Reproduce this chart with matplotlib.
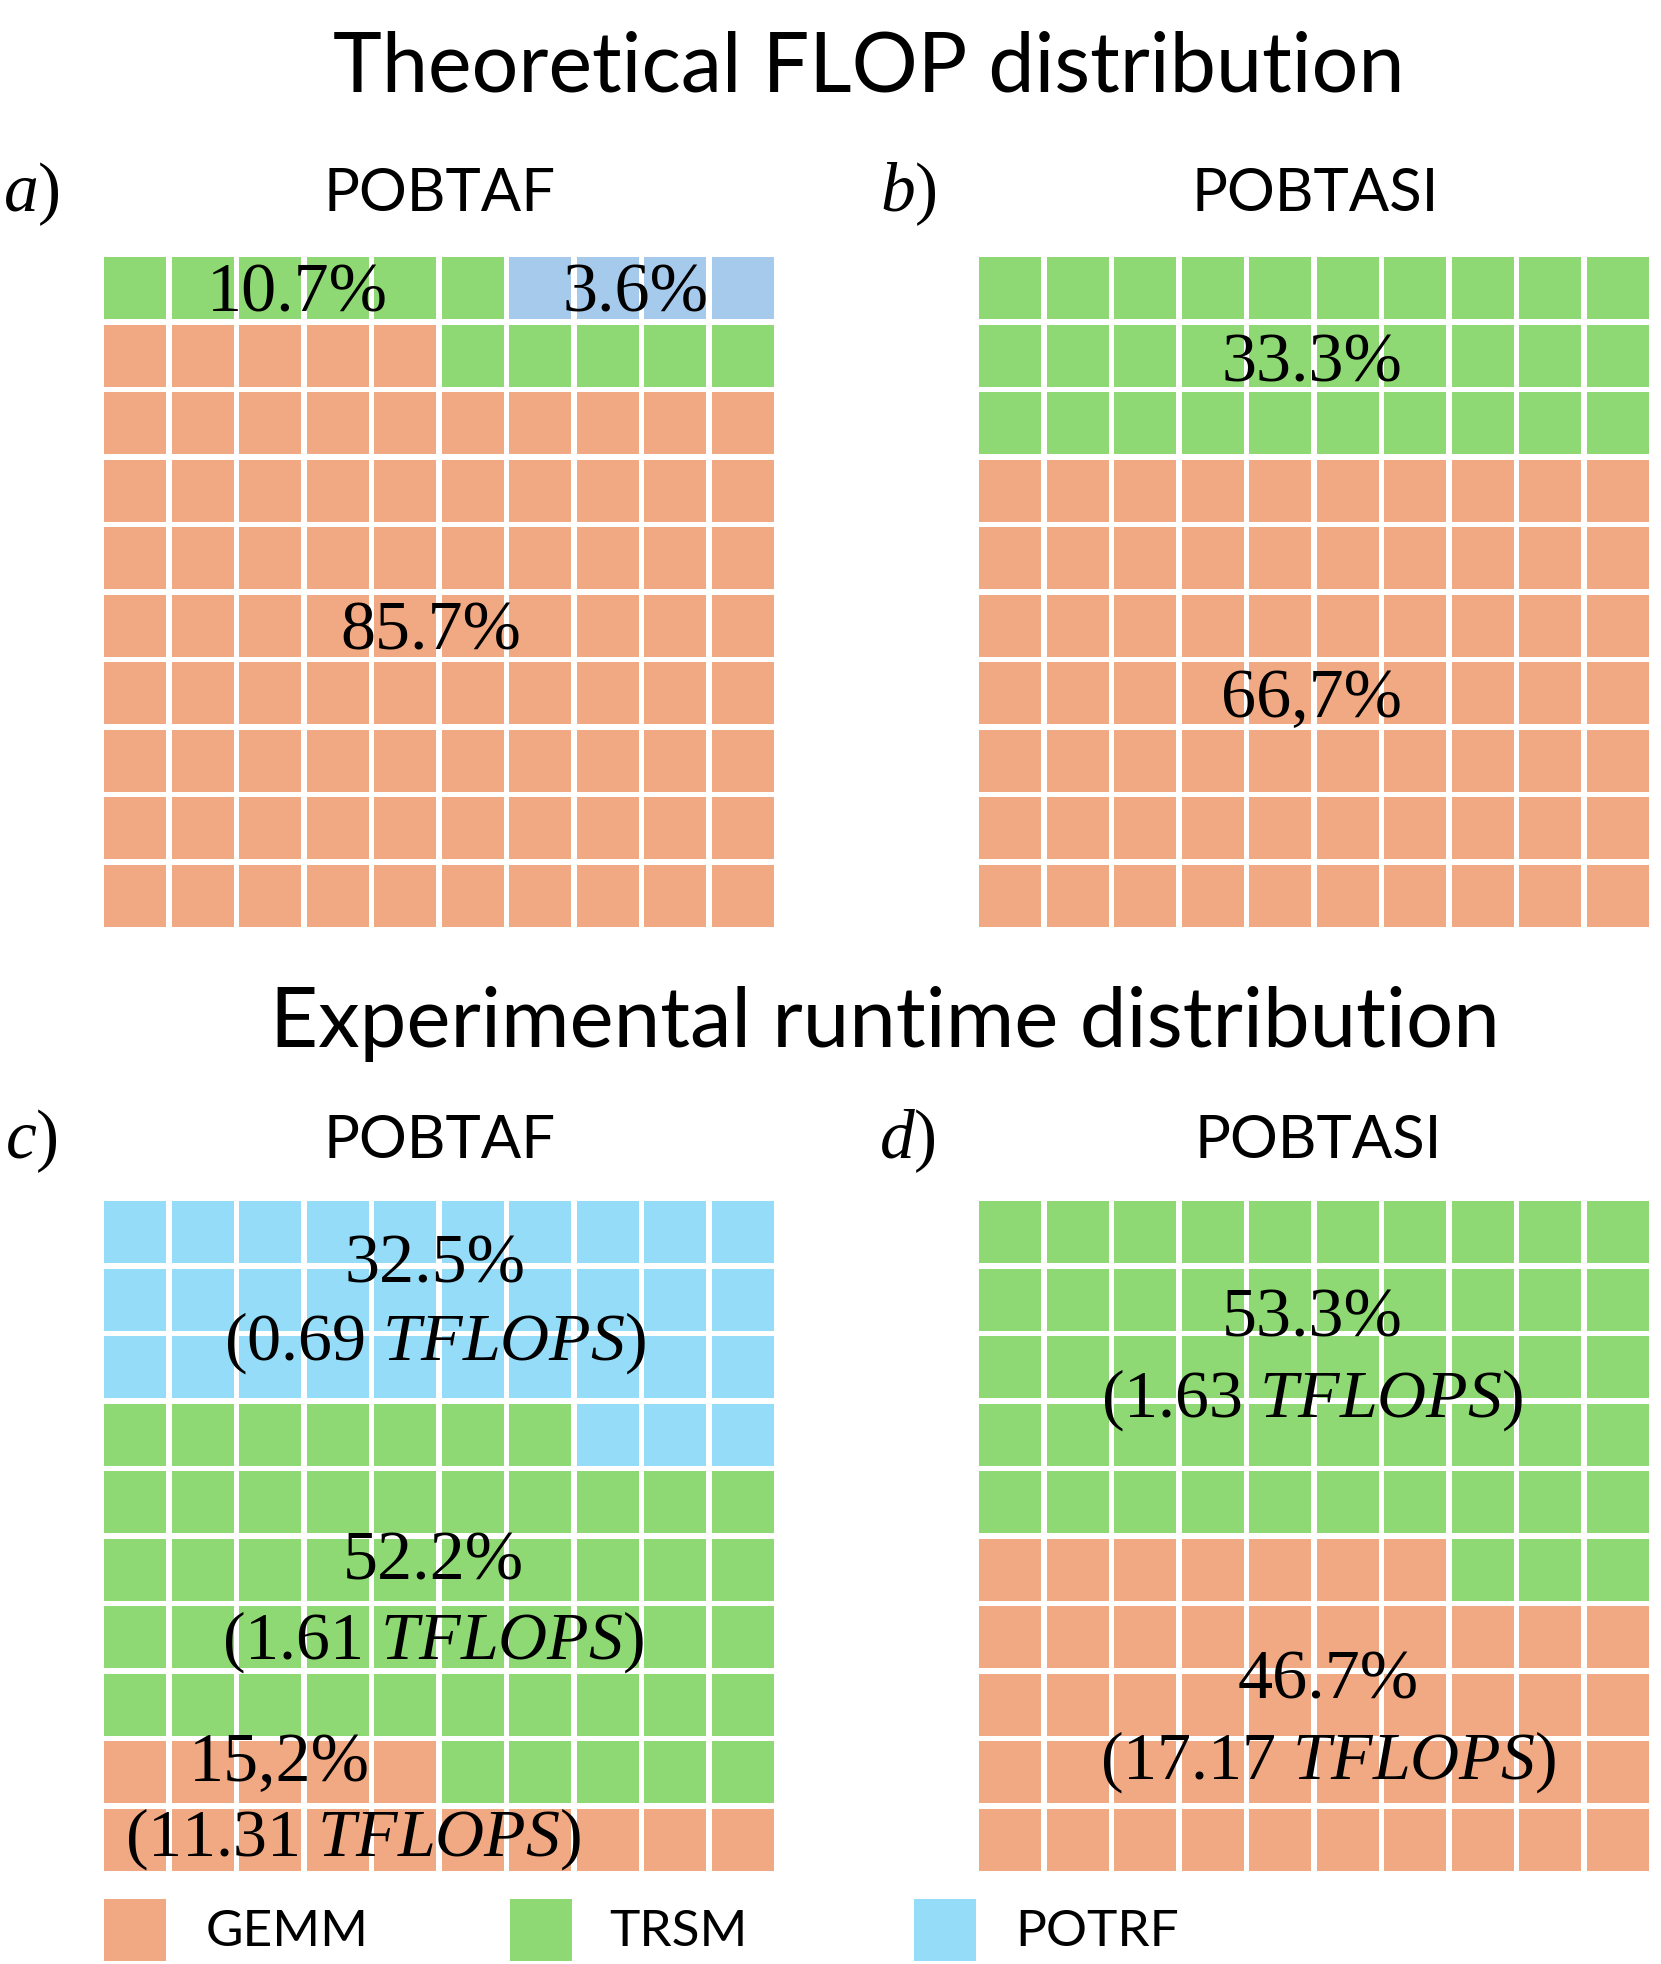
import numpy as np
import matplotlib.pyplot as plt
from matplotlib.patches import Rectangle

plt.rcParams['mathtext.fontset'] = 'custom'
plt.rcParams['mathtext.rm'] = 'Liberation Serif'
plt.rcParams['mathtext.it'] = 'Liberation Serif:italic'

SANS = 'Lato'
SERIF = 'Liberation Serif'

kernels = ['GEMM', 'TRSM', 'POTRF']
kernel_colors = ['#F1A983', '#8ED973', '#95DCF8']
theory_colors = ['#F1A983', '#8ED973', '#A6CAEC']

# number of cells (out of 100) per kernel: GEMM, TRSM, POTRF
theory_pobtaf = [85, 11, 4]
theory_pobtasi = [70, 30, 0]
runtime_pobtaf = [15, 52, 33]
runtime_pobtasi = [47, 53, 0]

# printed labels
theory_pobtaf_pct = ['85.7%', '10.7%', '3.6%']
theory_pobtasi_pct = ['66,7%', '33.3%']
runtime_pobtaf_pct = ['15,2%', '52.2%', '32.5%']
runtime_pobtaf_tflops = ['11.31', '1.61', '0.69']
runtime_pobtasi_pct = ['46.7%', '53.3%']
runtime_pobtasi_tflops = ['17.17', '1.63']

W, H = 1661, 1965
fig = plt.figure(figsize=(W / 100, H / 100), dpi=100)


def waffle_axes(left, top, size=675):
    # pixel box -> figure fraction
    return fig.add_axes([left / W, 1 - (top + size) / H, size / W, size / H])


def draw_waffle(ax, counts, colors, nrows=10, ncols=10, gap=0.075):
    fill = np.repeat(np.arange(len(counts)), counts)
    for i, k in enumerate(fill):
        row = nrows - 1 - i // ncols
        col = i % ncols
        ax.add_patch(Rectangle((col + gap / 2, row + gap / 2), 1 - gap, 1 - gap,
                               facecolor=colors[k], edgecolor='none'))
    ax.set_xlim(0, ncols)
    ax.set_ylim(nrows, 0)
    ax.axis('off')


ax_a = waffle_axes(101.5, 255.5)
ax_b = waffle_axes(976.5, 255.5)
ax_c = waffle_axes(101.5, 1199.5)
ax_d = waffle_axes(976.5, 1199.5)
draw_waffle(ax_a, theory_pobtaf, theory_colors)
draw_waffle(ax_b, theory_pobtasi, theory_colors)
draw_waffle(ax_c, runtime_pobtaf, kernel_colors)
draw_waffle(ax_d, runtime_pobtasi, kernel_colors)

# overlay in pixel coordinates for texts and legend
ov = fig.add_axes([0, 0, 1, 1], zorder=5)
ov.set_xlim(0, W)
ov.set_ylim(H, 0)
ov.axis('off')

ov.text(869, 92, 'Theoretical FLOP distribution', ha='center', va='baseline',
        fontsize=59.5, family=SANS)
ov.text(885, 1047, 'Experimental runtime distribution', ha='center', va='baseline',
        fontsize=60, family=SANS)

for x, y, name in [(440, 211, 'POBTAF'), (1315, 211, 'POBTASI'),
                   (440, 1158, 'POBTAF'), (1318, 1158, 'POBTASI')]:
    ov.text(x, y, name, ha='center', va='baseline', fontsize=43, family=SANS)

for x, y, letter in [(3, 211, 'a'), (880, 211, 'b'), (5, 1158, 'c'), (879, 1158, 'd')]:
    ov.text(x, y, '$%s$)' % letter, ha='left', va='baseline', fontsize=50, family=SERIF)

pct_size = 50.5
tfl_size = 49
# a)
ov.text(431, 650, theory_pobtaf_pct[0], ha='center', va='baseline', fontsize=pct_size, family=SERIF)
ov.text(297, 312, theory_pobtaf_pct[1], ha='center', va='baseline', fontsize=pct_size, family=SERIF)
ov.text(636, 312, theory_pobtaf_pct[2], ha='center', va='baseline', fontsize=pct_size, family=SERIF)
# b)
ov.text(1312, 717, theory_pobtasi_pct[0], ha='center', va='baseline', fontsize=pct_size, family=SERIF)
ov.text(1312, 381, theory_pobtasi_pct[1], ha='center', va='baseline', fontsize=pct_size, family=SERIF)


def runtime_label(x, y1, y2, pct, tflops, x2=None):
    ov.text(x, y1, pct, ha='center', va='baseline', fontsize=pct_size, family=SERIF)
    ov.text(x if x2 is None else x2, y2, '(%s $TFLOPS$)' % tflops, ha='center',
            va='baseline', fontsize=tfl_size, family=SERIF)


# c)
runtime_label(435, 1283, 1360, runtime_pobtaf_pct[2], runtime_pobtaf_tflops[2])
runtime_label(433, 1580, 1659, runtime_pobtaf_pct[1], runtime_pobtaf_tflops[1])
runtime_label(279, 1781, 1856, runtime_pobtaf_pct[0], runtime_pobtaf_tflops[0], x2=353)
# d)
runtime_label(1312, 1337, 1417, runtime_pobtasi_pct[1], runtime_pobtasi_tflops[1])
runtime_label(1328, 1699, 1779, runtime_pobtasi_pct[0], runtime_pobtasi_tflops[0])

# legend
for k, (sq_x, txt_x) in enumerate([(104, 206), (510, 609), (914, 1015)]):
    ov.add_patch(Rectangle((sq_x, 1900), 62, 62, facecolor=kernel_colors[k], edgecolor='none'))
    ov.text(txt_x, 1946, kernels[k], ha='left', va='baseline', fontsize=37, family=SANS)

fig.savefig('out.png', dpi=100)
